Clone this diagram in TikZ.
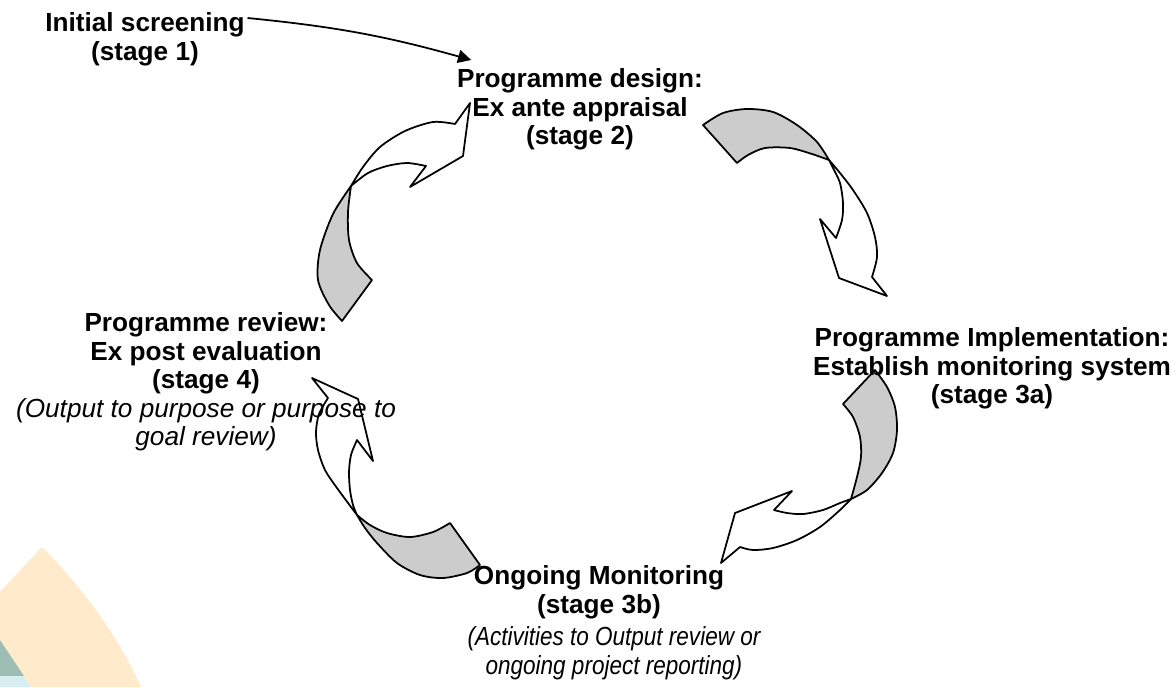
\documentclass[tikz,border=0pt]{standalone}
\usepackage{fontspec}
\setmainfont{Liberation Sans}
\usepackage{graphicx}
\usepackage{tikz}
\usetikzlibrary{positioning}
\usetikzlibrary{arrows.meta}
\usetikzlibrary{calc}

\definecolor{wash}{HTML}{FFEBCC}
\definecolor{sea}{HTML}{9DBDB5}
\definecolor{mist}{HTML}{D8EEF0}
\newcommand{\diagfont}{\fontsize{14.9}{16.2}\selectfont}
\newcommand{\aside}[1]{\textmd{\textit{#1}}}

\begin{document}
\begin{tikzpicture}[x=0.02cm,y=-0.02cm,line width=1pt,
    stage/.style={font=\diagfont\bfseries,align=center,inner sep=0pt},
    twist/.style={draw,fill=black!20,line join=round},
    ribbon/.style={draw,fill=white,line join=round}]
\useasboundingbox (0,0) rectangle (1176,687);

% watermark in the corner
\fill[wash] (0,592) -- (42,547) .. controls (80,585) and (118,635) .. (141,687) -- (0,687) -- cycle;
\fill[sea] (0,640) -- (24,676) -- (0,676) -- cycle;
\fill[mist] (0,676) -- (24,676) -- (31,687) -- (0,687) -- cycle;

% stage 4 -> stage 2
\draw[twist] plot[smooth] coordinates {(351,186) (333,214) (320,250) (318,280) (329,305) (342,321)}
  -- plot[smooth] coordinates {(372,280) (357,263) (349,240) (348,212) (351,186)} -- cycle;
\draw[ribbon] plot[smooth] coordinates {(351,186) (363,167) (380,147) (405,131) (433,122) (455,124)}
  -- (470,103) -- (463,156) -- (410,187)
  -- plot[smooth] coordinates {(426,166) (407,163) (387,166) (368,173) (351,186)} -- cycle;

% stage 2 -> stage 3a
\draw[twist] plot[smooth] coordinates {(703,125) (723,113) (747,109) (773,112) (797,125) (817,142) (829,160)}
  -- plot[smooth] coordinates {(829,160) (812,154) (790,148) (765,148) (748,155) (737,163)} -- cycle;
\draw[ribbon] plot[smooth] coordinates {(829,160) (840,173) (853,190) (867,213) (875,237) (877,257) (872,277)}
  -- (887,296) -- (839,278) -- (820,219)
  -- plot[smooth] coordinates {(836,238) (842,220) (843,203) (840,183) (833,168) (829,160)} -- cycle;

% stage 3a -> stage 3b
\draw[twist] plot[smooth] coordinates {(875,370) (887,387) (895,407) (897,430) (893,453) (882,473) (867,490) (851,499)}
  -- plot[smooth] coordinates {(851,499) (857,477) (861,457) (860,437) (853,417) (843,404)} -- cycle;
\draw[ribbon] plot[smooth] coordinates {(851,499) (840,510) (820,527) (797,540) (773,548) (753,550) (740,547)}
  -- (721,563) -- (735,513) -- (792,491)
  -- plot[smooth] coordinates {(774,510) (787,513) (803,514) (823,510) (840,503) (851,499)} -- cycle;

% stage 3b -> stage 4
\draw[twist] plot[smooth] coordinates {(450,523) (433,532) (410,537) (387,533) (370,525) (357,515)}
  -- plot[smooth] coordinates {(357,515) (365,528) (377,543) (397,563) (420,575) (443,578) (467,573) (480,565)} -- cycle;
\draw[ribbon] plot[smooth] coordinates {(357,515) (337,488) (325,470) (318,450) (316,432) (319,414) (328,398)}
  -- (312,378) -- (358,399) -- (373,461)
  -- plot[smooth] coordinates {(357,440) (351,455) (349,472) (350,490) (353,505) (357,515)} -- cycle;

\node[stage,anchor=north] (init) at (145,12) {Initial screening\\(stage 1)};
\node[stage,anchor=north] (design) at (580,68) {Programme design:\\Ex ante appraisal\\(stage 2)};
\node[stage,anchor=north] (impl) at (992,327) {Programme Implementation:\\Establish monitoring system\\(stage 3a)};
\node[stage,anchor=north] (review) at (206,312) {Programme review:\\Ex post evaluation\\(stage 4)\\\aside{(Output to purpose or purpose to}\\\aside{goal review)}};
\node[stage,anchor=north] (monitor) at (599,565) {Ongoing Monitoring\\(stage 3b)};
\node[stage,font=\diagfont\itshape,below=3pt of monitor,xshift=8.5pt] (monitornote)
  {\scalebox{0.86}[1]{\begin{tabular}{@{}c@{}}(Activities to Output review or\\ongoing project reporting)\end{tabular}}};

\draw[-{Triangle[length=7.5pt,width=7.5pt]}] ($(init.north east)+(2,6)$) to[bend left=5] ($(design.north west)+(15,-8)$);
\end{tikzpicture}
\end{document}
